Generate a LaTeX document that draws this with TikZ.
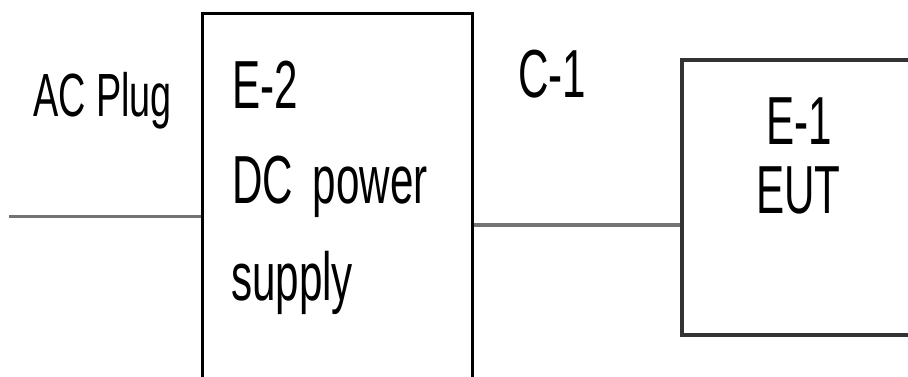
\documentclass[tikz,border=0pt]{standalone}
\usepackage{fontspec}
\setmainfont{Liberation Sans}
\newfontfamily\condfont[FakeStretch=0.62]{Liberation Sans}
\begin{document}
\begin{tikzpicture}[x=1pt,y=-1pt,
  lbl/.style={anchor=base west,inner sep=0pt,font=\condfont\fontsize{68}{80}\selectfont},
  boxE2/.style={draw=black,line width=3pt,minimum width=270pt,minimum height=407pt,inner sep=0pt},
  boxE1/.style={draw=black!80,line width=3.5pt,minimum width=278pt,minimum height=275pt,inner sep=0pt},
  cable/.style={draw=black!55,line width=3.5pt}]
\useasboundingbox (0,0) rectangle (908,376);
\clip (0,0) rectangle (908,376);
\node[boxE2] (e2) at (337,216.5) {};
\node[boxE1] (e1) at (821,197.5) {};
\coordinate (ac) at (9,216.5);
\coordinate (cy) at (0,225);
\draw[cable] (ac) -- (e2.west);
\draw[cable] (e2.east |- cy) -- (e1.west |- cy);
\node[lbl,font=\condfont\fontsize{61}{72}\selectfont] (acplug) at (33,116) {AC Plug};
\node[lbl] (e2a) at (232,108) {E-2};
\node[lbl] (e2b) at (232,203) {DC\hspace{8pt} power};
\node[lbl] (e2c) at (231,300) {supply};
\node[lbl] (c1) at (518,97) {C-1};
\node[lbl] (e1a) at (766,144) {E-1};
\node[lbl] (e1b) at (756,213) {EUT};
\end{tikzpicture}
\end{document}
